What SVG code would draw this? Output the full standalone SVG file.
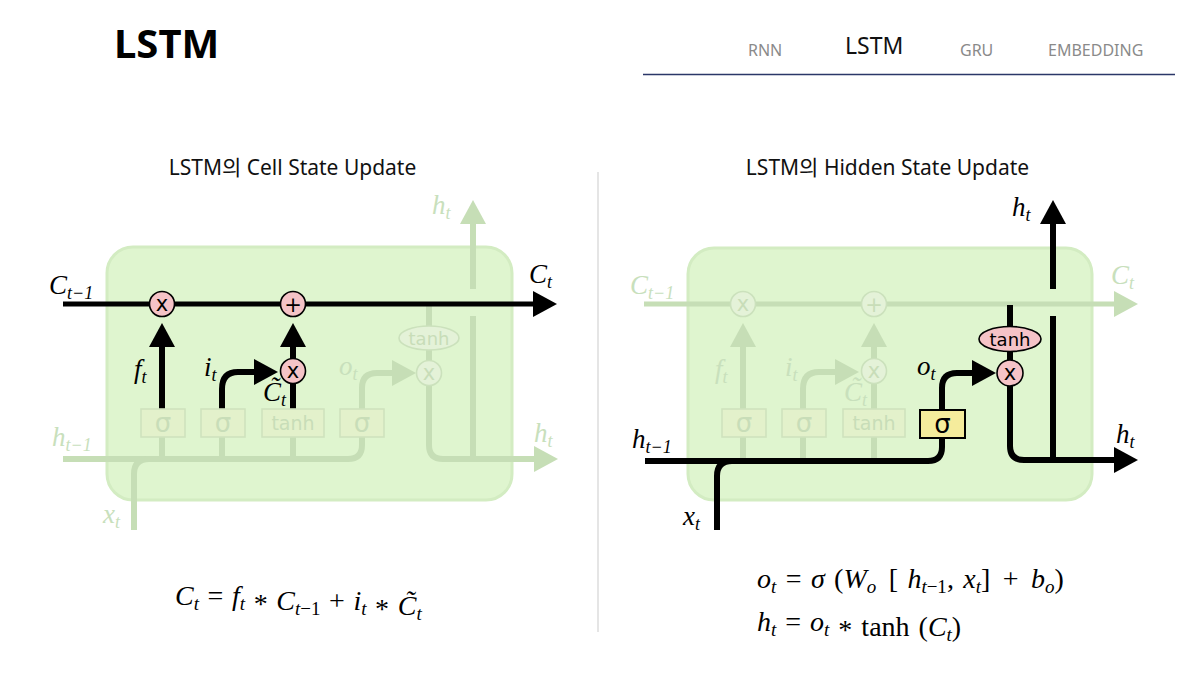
<svg xmlns="http://www.w3.org/2000/svg" width="1198" height="674" viewBox="0 0 1198 674">
<style>
.hd{font-family:"Noto Sans","Noto Sans CJK KR",sans-serif}
.nav{font-family:"Noto Sans","Noto Sans CJK KR",sans-serif;font-size:16px;fill:#8a8a8a}
.sub{font-family:"Noto Sans","Noto Sans CJK KR",sans-serif;font-size:21px;fill:#111;text-anchor:middle}
.cell{fill:#dff5cf;stroke:#d3ecc2;stroke-width:3}
.bk{fill:none;stroke:#000;stroke-width:6}
.bkc{fill:none;stroke:#000;stroke-width:5}
.fd{fill:none;stroke:#c6deb6;stroke-width:6}
.fdc{fill:none;stroke:#c6deb6;stroke-width:5}
.pk{fill:#f5c3c7;stroke:#000;stroke-width:1.6}
.fpk{fill:#e4f2d8;stroke:#cbe1bc;stroke-width:1.6}
.fbox{fill:#e3f1cb;stroke:#cfe3bd;stroke-width:1.6}
.ybox{fill:#f5ec9c;stroke:#000;stroke-width:2}
.op{font-family:"DejaVu Sans",sans-serif;font-size:21px;text-anchor:middle;fill:#000}
.fop{font-family:"DejaVu Sans",sans-serif;font-size:21px;text-anchor:middle;fill:#c8ddb8}
.tn{font-family:"DejaVu Sans",sans-serif;font-size:18px;text-anchor:middle;fill:#000}
.ftn{font-family:"DejaVu Sans",sans-serif;font-size:19px;text-anchor:middle;fill:#c8ddb8}
.fte{font-family:"DejaVu Sans",sans-serif;font-size:18px;text-anchor:middle;fill:#c8ddb8}
.gt{font-family:"DejaVu Sans",sans-serif;font-size:26px;text-anchor:middle;fill:#c8ddb8}
.gtb{font-family:"DejaVu Sans",sans-serif;font-size:26px;text-anchor:middle;fill:#000}
.m{font-family:"Liberation Serif",serif;font-style:italic;font-size:27px;fill:#000}
.fm{font-family:"Liberation Serif",serif;font-style:italic;font-size:27px;fill:#c8e0bc}
.s{font-size:18px}
.eq{font-family:"Liberation Serif",serif;font-size:28px;fill:#000}
.i{font-style:italic}
.sb{font-size:19px}
</style>
<defs>
<marker id="ab" markerUnits="userSpaceOnUse" viewBox="0 0 24 26" refX="3" refY="13" markerWidth="24" markerHeight="26" orient="auto"><path d="M0,0 L24,13 L0,26 Z" fill="#000"/></marker>
<marker id="af" markerUnits="userSpaceOnUse" viewBox="0 0 24 26" refX="3" refY="13" markerWidth="24" markerHeight="26" orient="auto"><path d="M0,0 L24,13 L0,26 Z" fill="#c6deb6"/></marker>
</defs>
<rect width="1198" height="674" fill="#fff"/>

<g id="header">
<text class="hd" x="114" y="58" font-size="40" font-weight="bold" fill="#000">LSTM</text>
<text class="nav" x="748" y="56">RNN</text>
<text class="hd" x="845" y="54" font-size="23" fill="#111">LSTM</text>
<text class="nav" x="960" y="56">GRU</text>
<text class="nav" x="1048" y="56">EMBEDDING</text>
<line x1="643" y1="74.5" x2="1175" y2="74.5" stroke="#2b3768" stroke-width="1.6"/>
<line x1="598" y1="172" x2="598" y2="632" stroke="#dddddd" stroke-width="1.5"/>
</g>

<g id="left-title"><text class="sub" x="292.5" y="175">LSTM의 Cell State Update</text></g>
<g id="right-title"><text class="sub" x="887.5" y="175">LSTM의 Hidden State Update</text></g>

<!-- LEFT DIAGRAM -->
<g id="left-cell"><rect class="cell" x="107" y="247" width="405" height="253" rx="26"/></g>
<g id="left-connectors">
<path class="fd" d="M473,289 V221" marker-end="url(#af)"/>
<path class="fd" d="M473,316 V459"/>
<path class="fd" d="M429,304 V361"/>
<path class="fd" d="M429,385 V445 Q429,459 443,459 H537" marker-end="url(#af)"/>
<path class="fd" d="M362,409 V388 Q362,373 377,373 H395" marker-end="url(#af)"/>
<path class="fd" d="M63,459 H348 Q362,459 362,445 V437"/>
<path class="fd" d="M134,530 V474 Q134,459 149,459"/>
<path class="fd" d="M162,437 V459 M222,437 V459 M293,437 V459"/>
<path class="bkc" d="M63,304 H536" marker-end="url(#ab)"/>
<path class="bk" d="M162,409 V344" marker-end="url(#ab)"/>
<path class="bk" d="M222,409 V389 Q222,372 238,372 H257" marker-end="url(#ab)"/>
<path class="bk" d="M293,409 V344" marker-end="url(#ab)"/>
</g>
<g id="left-nodes">
<g id="l-mul1"><circle class="pk" cx="162" cy="304" r="12.5"/><text class="op" x="162" y="311">x</text></g>
<g id="l-add"><circle class="pk" cx="293" cy="304" r="12.5"/><text class="op" x="293" y="311.5">+</text></g>
<g id="l-mul2"><circle class="pk" cx="293" cy="371" r="12.5"/><text class="op" x="293" y="378">x</text></g>
<g id="l-tanh-e"><ellipse class="fpk" cx="429" cy="338" rx="30" ry="12"/><text class="fte" x="429" y="344.5">tanh</text></g>
<g id="l-mul3"><circle class="fpk" cx="429" cy="373" r="12.5"/><text class="fop" x="429" y="380">x</text></g>
<g id="l-s1"><rect class="fbox" x="141" y="409" width="44" height="28"/><text class="gt" x="163" y="432">σ</text></g>
<g id="l-s2"><rect class="fbox" x="201" y="409" width="44" height="28"/><text class="gt" x="223" y="432">σ</text></g>
<g id="l-tanh"><rect class="fbox" x="262" y="409" width="62" height="28"/><text class="ftn" x="293" y="429.5">tanh</text></g>
<g id="l-s4"><rect class="fbox" x="340" y="409" width="44" height="28"/><text class="gt" x="362" y="432">σ</text></g>
</g>
<g id="left-labels">
<text class="m" x="49" y="294">C<tspan class="s" dy="5">t−1</tspan></text>
<text class="m" x="529" y="283">C<tspan class="s" dy="5">t</tspan></text>
<text class="fm" x="432" y="214">h<tspan class="s" dy="5">t</tspan></text>
<text class="m" x="134" y="378">f<tspan class="s" dy="5">t</tspan></text>
<text class="m" x="204" y="376">i<tspan class="s" dy="5">t</tspan></text>
<text class="m" x="263" y="401">C̃<tspan class="s" dy="5">t</tspan></text>
<text class="fm" x="339" y="375">o<tspan class="s" dy="5">t</tspan></text>
<text class="fm" x="534" y="442">h<tspan class="s" dy="5">t</tspan></text>
<text class="fm" x="52" y="446">h<tspan class="s" dy="5">t−1</tspan></text>
<text class="fm" x="103" y="523">x<tspan class="s" dy="5">t</tspan></text>
</g>

<!-- RIGHT DIAGRAM -->
<g id="right-cell"><rect class="cell" x="688" y="248" width="404" height="252" rx="26"/></g>
<g id="right-connectors">
<path class="fdc" d="M644,304 H1117" marker-end="url(#af)"/>
<path class="fd" d="M743,409 V344" marker-end="url(#af)"/>
<path class="fd" d="M803,409 V389 Q803,372 819,372 H838" marker-end="url(#af)"/>
<path class="fd" d="M874,409 V344" marker-end="url(#af)"/>
<path class="fd" d="M743,437 V461 M803,437 V461 M874,437 V461"/>
<path class="bk" d="M645,461 H928 Q942,461 942,447 V438"/>
<path class="bk" d="M717,530 V476 Q717,461 732,461"/>
<path class="bk" d="M942,410 V388 Q942,373 957,373 H975" marker-end="url(#ab)"/>
<path class="bk" d="M1010,305 V373"/>
<path class="bk" d="M1010,386 V446 Q1010,460 1024,460 H1117" marker-end="url(#ab)"/>
<path class="bk" d="M1053,460 V316"/>
<path class="bk" d="M1053,289 V221" marker-end="url(#ab)"/>
</g>
<g id="right-nodes">
<g id="r-mul1"><circle class="fpk" cx="743" cy="304" r="12.5"/><text class="fop" x="743" y="311">x</text></g>
<g id="r-add"><circle class="fpk" cx="874" cy="304" r="12.5"/><text class="fop" x="874" y="311.5">+</text></g>
<g id="r-mul2"><circle class="fpk" cx="874" cy="371" r="12.5"/><text class="fop" x="874" y="378">x</text></g>
<g id="r-s1"><rect class="fbox" x="722" y="409" width="44" height="28"/><text class="gt" x="744" y="432">σ</text></g>
<g id="r-s2"><rect class="fbox" x="782" y="409" width="44" height="28"/><text class="gt" x="804" y="432">σ</text></g>
<g id="r-tanh"><rect class="fbox" x="843" y="409" width="62" height="28"/><text class="ftn" x="874" y="429.5">tanh</text></g>
<g id="r-s4"><rect class="ybox" x="920" y="410" width="45" height="28"/><text class="gtb" x="942.5" y="433">σ</text></g>
<g id="r-tanh-e"><ellipse class="pk" cx="1010" cy="339" rx="31" ry="12.5"/><text class="tn" x="1010" y="345.5">tanh</text></g>
<g id="r-mul3"><circle class="pk" cx="1010" cy="373" r="13"/><text class="op" x="1010" y="380">x</text></g>
</g>
<g id="right-labels">
<text class="fm" x="630" y="294">C<tspan class="s" dy="5">t−1</tspan></text>
<text class="fm" x="1111" y="284">C<tspan class="s" dy="5">t</tspan></text>
<text class="m" x="1012" y="216">h<tspan class="s" dy="5">t</tspan></text>
<text class="fm" x="715" y="378">f<tspan class="s" dy="5">t</tspan></text>
<text class="fm" x="785" y="376">i<tspan class="s" dy="5">t</tspan></text>
<text class="fm" x="844" y="401">C̃<tspan class="s" dy="5">t</tspan></text>
<text class="m" x="917" y="375">o<tspan class="s" dy="5">t</tspan></text>
<text class="m" x="1116" y="443">h<tspan class="s" dy="5">t</tspan></text>
<text class="m" x="632" y="448">h<tspan class="s" dy="5">t−1</tspan></text>
<text class="m" x="683" y="525">x<tspan class="s" dy="5">t</tspan></text>
</g>

<g id="formulas">
<text class="eq" x="175" y="605" word-spacing="1.6"><tspan class="i">C</tspan><tspan class="i sb" dy="5">t</tspan><tspan dy="-5"> = </tspan><tspan class="i">f</tspan><tspan class="i sb" dy="5">t</tspan><tspan dy="3"> * </tspan><tspan class="i" dy="-3">C</tspan><tspan class="sb" dy="5"><tspan class="i">t</tspan>−1</tspan><tspan dy="-5"> + </tspan><tspan class="i">i</tspan><tspan class="i sb" dy="5">t</tspan><tspan dy="3"> * </tspan><tspan class="i" dy="-3">C̃</tspan><tspan class="i sb" dy="5">t</tspan></text>
<text class="eq" x="757" y="588" word-spacing="2.4"><tspan class="i">o</tspan><tspan class="i sb" dy="5">t</tspan><tspan dy="-5"> = </tspan><tspan class="i">σ</tspan> (<tspan class="i">W</tspan><tspan class="i sb" dy="5">o</tspan><tspan dy="-5" dx="3"> [ </tspan><tspan class="i">h</tspan><tspan class="sb" dy="5"><tspan class="i">t</tspan>−1</tspan><tspan dy="-5">, </tspan><tspan class="i">x</tspan><tspan class="i sb" dy="5">t</tspan><tspan dy="-5">] </tspan><tspan dx="3">+ </tspan><tspan class="i" dx="3">b</tspan><tspan class="i sb" dy="5">o</tspan><tspan dy="-5">)</tspan></text>
<text class="eq" x="757" y="631" word-spacing="2"><tspan class="i">h</tspan><tspan class="i sb" dy="5">t</tspan><tspan dy="-5"> = </tspan><tspan class="i">o</tspan><tspan class="i sb" dy="5">t</tspan><tspan dy="3"> * </tspan><tspan dy="-3">tanh (</tspan><tspan class="i">C</tspan><tspan class="i sb" dy="5">t</tspan><tspan dy="-5">)</tspan></text>
</g>
</svg>
